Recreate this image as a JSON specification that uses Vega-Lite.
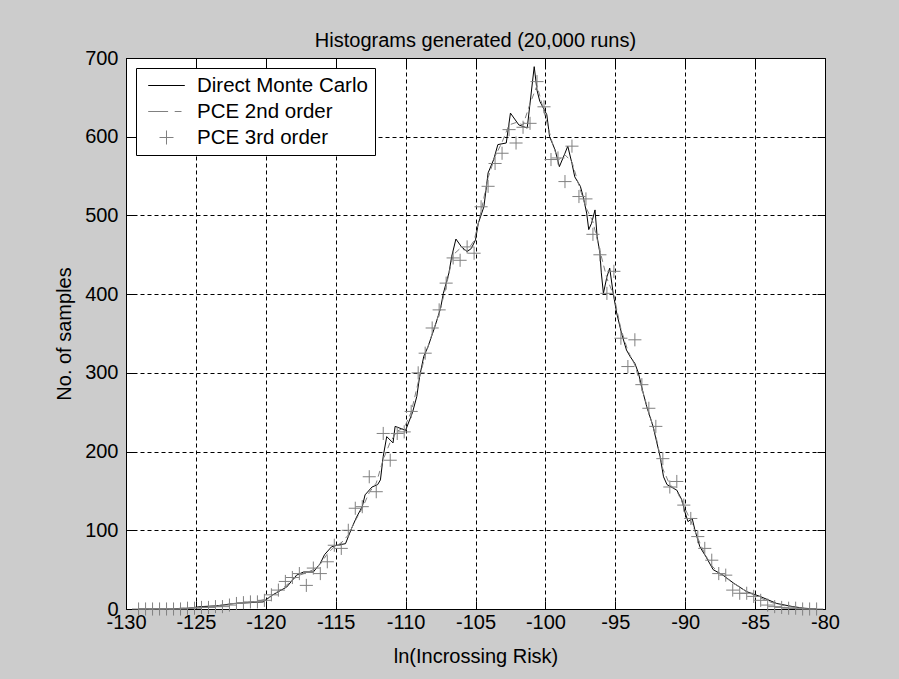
{
  "$schema": "https://vega.github.io/schema/vega-lite/v6.json",
  "width": 699,
  "height": 551,
  "autosize": {"type": "none"},
  "padding": {"left": 126, "top": 58, "right": 74, "bottom": 70},
  "background": "#cccccc",
  "title": {"text": "Histograms generated (20,000 runs)", "fontSize": 20, "fontWeight": "normal", "font": "Liberation Sans", "color": "black", "offset": -3},
  "config": {
    "view": {"fill": "white", "stroke": "black", "strokeWidth": 1},
    "font": "Liberation Sans",
    "axis": {
      "labelFont": "Liberation Sans", "titleFont": "Liberation Sans",
      "labelFontSize": 20, "titleFontSize": 20,
      "labelColor": "black", "titleColor": "black", "titleFontWeight": "normal",
      "tickColor": "black", "tickSize": -8, "tickWidth": 1, "domain": false,
      "gridColor": "black", "gridDash": [4, 3], "gridOpacity": 1, "gridWidth": 1,
      "labelFlush": false, "labelOverlap": false,
      "labelExpr": "datum.value < 0 ? '-' + abs(datum.value) : '' + datum.value"
    },
    "legend": {
      "orient": "top-left", "offset": 10, "fillColor": "white", "strokeColor": "black",
      "padding": 7, "labelFont": "Liberation Sans", "labelFontSize": 20.5, "labelColor": "black", "labelLimit": 400,
      "symbolSize": 400, "symbolStrokeWidth": 1, "rowPadding": 5, "symbolOffset": 13, "labelOffset": 20, "cornerRadius": 0
    }
  },
  "datasets": {
    "mc": [
      {"x": -129.1, "count": 0}, {"x": -127.0, "count": 0}, {"x": -125.5, "count": 1}, {"x": -124.7, "count": 3},
      {"x": -123.5, "count": 4}, {"x": -122.3, "count": 7}, {"x": -121.2, "count": 8}, {"x": -120.2, "count": 9},
      {"x": -119.5, "count": 18}, {"x": -118.5, "count": 28}, {"x": -117.8, "count": 43}, {"x": -117.3, "count": 47},
      {"x": -116.6, "count": 47}, {"x": -116.1, "count": 58}, {"x": -115.8, "count": 69}, {"x": -115.3, "count": 79},
      {"x": -114.9, "count": 81}, {"x": -114.3, "count": 83}, {"x": -113.85, "count": 103}, {"x": -113.5, "count": 117},
      {"x": -113.1, "count": 130}, {"x": -112.9, "count": 145}, {"x": -112.4, "count": 155}, {"x": -112.0, "count": 158},
      {"x": -111.8, "count": 164}, {"x": -111.6, "count": 194}, {"x": -111.35, "count": 219}, {"x": -110.9, "count": 211},
      {"x": -110.75, "count": 232}, {"x": -110.0, "count": 227}, {"x": -109.5, "count": 250}, {"x": -109.2, "count": 270},
      {"x": -109.0, "count": 295}, {"x": -108.7, "count": 321}, {"x": -108.4, "count": 333}, {"x": -107.9, "count": 359},
      {"x": -107.5, "count": 382}, {"x": -107.3, "count": 401}, {"x": -106.9, "count": 427}, {"x": -106.7, "count": 448},
      {"x": -106.4, "count": 470}, {"x": -106.0, "count": 460}, {"x": -105.6, "count": 454}, {"x": -105.3, "count": 458},
      {"x": -105.0, "count": 469}, {"x": -104.8, "count": 490}, {"x": -104.4, "count": 511}, {"x": -104.25, "count": 532},
      {"x": -104.1, "count": 554}, {"x": -103.7, "count": 571}, {"x": -103.4, "count": 590}, {"x": -102.8, "count": 592},
      {"x": -102.5, "count": 630}, {"x": -101.9, "count": 615}, {"x": -101.3, "count": 611}, {"x": -100.8, "count": 689},
      {"x": -100.6, "count": 659}, {"x": -100.4, "count": 645}, {"x": -99.9, "count": 628}, {"x": -99.7, "count": 600},
      {"x": -99.3, "count": 583}, {"x": -99.0, "count": 562}, {"x": -98.6, "count": 579}, {"x": -98.4, "count": 588},
      {"x": -98.1, "count": 566}, {"x": -97.9, "count": 549}, {"x": -97.5, "count": 537}, {"x": -97.3, "count": 524},
      {"x": -97.05, "count": 503}, {"x": -96.9, "count": 482}, {"x": -96.7, "count": 490}, {"x": -96.45, "count": 507},
      {"x": -96.3, "count": 473}, {"x": -96.1, "count": 452}, {"x": -96.0, "count": 427}, {"x": -95.85, "count": 401},
      {"x": -95.6, "count": 422}, {"x": -95.4, "count": 433}, {"x": -95.15, "count": 401}, {"x": -94.9, "count": 376},
      {"x": -94.55, "count": 350}, {"x": -94.2, "count": 329}, {"x": -93.95, "count": 321}, {"x": -93.6, "count": 312},
      {"x": -93.35, "count": 300}, {"x": -93.0, "count": 274}, {"x": -92.75, "count": 257}, {"x": -92.3, "count": 232},
      {"x": -91.8, "count": 194}, {"x": -91.55, "count": 168}, {"x": -91.3, "count": 158}, {"x": -90.6, "count": 151},
      {"x": -90.25, "count": 139}, {"x": -90.0, "count": 122}, {"x": -89.8, "count": 111}, {"x": -89.5, "count": 115},
      {"x": -89.3, "count": 100}, {"x": -88.95, "count": 79}, {"x": -88.5, "count": 66}, {"x": -88.0, "count": 50},
      {"x": -87.3, "count": 43}, {"x": -86.55, "count": 33}, {"x": -85.6, "count": 22}, {"x": -84.65, "count": 16},
      {"x": -83.45, "count": 7}, {"x": -82.3, "count": 3}, {"x": -81.5, "count": 1}, {"x": -80.6, "count": 0}
    ],
    "pce2": [
      {"x": -129.1, "count": 0}, {"x": -128.6, "count": 0}, {"x": -128.1, "count": 0}, {"x": -127.6, "count": 0},
      {"x": -127.1, "count": 0}, {"x": -126.6, "count": 0}, {"x": -126.1, "count": 1}, {"x": -125.6, "count": 1},
      {"x": -125.1, "count": 2}, {"x": -124.6, "count": 2}, {"x": -124.1, "count": 3}, {"x": -123.6, "count": 4},
      {"x": -123.1, "count": 5}, {"x": -122.6, "count": 6}, {"x": -122.1, "count": 7}, {"x": -121.6, "count": 8},
      {"x": -121.1, "count": 9}, {"x": -120.6, "count": 10}, {"x": -120.1, "count": 12}, {"x": -119.6, "count": 16},
      {"x": -119.1, "count": 23}, {"x": -118.6, "count": 29}, {"x": -118.1, "count": 37}, {"x": -117.6, "count": 43},
      {"x": -117.1, "count": 46}, {"x": -116.6, "count": 50}, {"x": -116.1, "count": 57}, {"x": -115.6, "count": 70},
      {"x": -115.1, "count": 79}, {"x": -114.6, "count": 84}, {"x": -114.1, "count": 94}, {"x": -113.6, "count": 112},
      {"x": -113.1, "count": 128}, {"x": -112.6, "count": 148}, {"x": -112.1, "count": 160}, {"x": -111.6, "count": 190},
      {"x": -111.1, "count": 212}, {"x": -110.6, "count": 226}, {"x": -110.1, "count": 230}, {"x": -109.6, "count": 250},
      {"x": -109.1, "count": 288}, {"x": -108.6, "count": 322}, {"x": -108.1, "count": 350}, {"x": -107.6, "count": 375},
      {"x": -107.1, "count": 410}, {"x": -106.6, "count": 450}, {"x": -106.1, "count": 458}, {"x": -105.6, "count": 455},
      {"x": -105.1, "count": 468}, {"x": -104.6, "count": 505}, {"x": -104.1, "count": 548}, {"x": -103.6, "count": 575},
      {"x": -103.1, "count": 593}, {"x": -102.6, "count": 615}, {"x": -102.1, "count": 618}, {"x": -101.6, "count": 615},
      {"x": -101.1, "count": 642}, {"x": -100.6, "count": 665}, {"x": -100.1, "count": 632}, {"x": -99.6, "count": 598},
      {"x": -99.1, "count": 570}, {"x": -98.6, "count": 577}, {"x": -98.1, "count": 568}, {"x": -97.6, "count": 538},
      {"x": -97.1, "count": 510}, {"x": -96.6, "count": 492}, {"x": -96.1, "count": 455}, {"x": -95.6, "count": 420},
      {"x": -95.1, "count": 398}, {"x": -94.6, "count": 356}, {"x": -94.1, "count": 328}, {"x": -93.6, "count": 310},
      {"x": -93.1, "count": 280}, {"x": -92.6, "count": 250}, {"x": -92.1, "count": 220}, {"x": -91.6, "count": 178},
      {"x": -91.1, "count": 158}, {"x": -90.6, "count": 150}, {"x": -90.1, "count": 131}, {"x": -89.6, "count": 112},
      {"x": -89.1, "count": 90}, {"x": -88.6, "count": 70}, {"x": -88.1, "count": 55}, {"x": -87.6, "count": 46},
      {"x": -87.1, "count": 40}, {"x": -86.6, "count": 33}, {"x": -86.1, "count": 28}, {"x": -85.6, "count": 22},
      {"x": -85.1, "count": 18}, {"x": -84.6, "count": 14}, {"x": -84.1, "count": 10}, {"x": -83.6, "count": 7},
      {"x": -83.1, "count": 5}, {"x": -82.6, "count": 3}, {"x": -82.1, "count": 2}, {"x": -81.6, "count": 1},
      {"x": -81.1, "count": 0}, {"x": -80.6, "count": 0}
    ],
    "pce3": [
      {"x": -129.1, "count": 0, "series": "PCE 3rd order"}, {"x": -128.6, "count": 0, "series": "PCE 3rd order"},
      {"x": -128.1, "count": 0, "series": "PCE 3rd order"}, {"x": -127.6, "count": 0, "series": "PCE 3rd order"},
      {"x": -127.1, "count": 0, "series": "PCE 3rd order"}, {"x": -126.6, "count": 0, "series": "PCE 3rd order"},
      {"x": -126.1, "count": 0, "series": "PCE 3rd order"}, {"x": -125.6, "count": 1, "series": "PCE 3rd order"},
      {"x": -125.1, "count": 1, "series": "PCE 3rd order"}, {"x": -124.6, "count": 2, "series": "PCE 3rd order"},
      {"x": -124.1, "count": 2, "series": "PCE 3rd order"}, {"x": -123.6, "count": 3, "series": "PCE 3rd order"},
      {"x": -123.1, "count": 3, "series": "PCE 3rd order"}, {"x": -122.6, "count": 5, "series": "PCE 3rd order"},
      {"x": -122.1, "count": 7, "series": "PCE 3rd order"}, {"x": -121.6, "count": 8, "series": "PCE 3rd order"},
      {"x": -121.1, "count": 9, "series": "PCE 3rd order"}, {"x": -120.6, "count": 9, "series": "PCE 3rd order"},
      {"x": -120.1, "count": 11, "series": "PCE 3rd order"}, {"x": -119.6, "count": 18, "series": "PCE 3rd order"},
      {"x": -119.1, "count": 24, "series": "PCE 3rd order"}, {"x": -118.6, "count": 35, "series": "PCE 3rd order"},
      {"x": -118.1, "count": 40, "series": "PCE 3rd order"}, {"x": -117.6, "count": 45, "series": "PCE 3rd order"},
      {"x": -117.1, "count": 30, "series": "PCE 3rd order"}, {"x": -116.6, "count": 52, "series": "PCE 3rd order"},
      {"x": -116.1, "count": 45, "series": "PCE 3rd order"}, {"x": -115.6, "count": 60, "series": "PCE 3rd order"},
      {"x": -115.1, "count": 81, "series": "PCE 3rd order"}, {"x": -114.6, "count": 77, "series": "PCE 3rd order"},
      {"x": -114.1, "count": 100, "series": "PCE 3rd order"}, {"x": -113.6, "count": 128, "series": "PCE 3rd order"},
      {"x": -113.1, "count": 130, "series": "PCE 3rd order"}, {"x": -112.6, "count": 168, "series": "PCE 3rd order"},
      {"x": -112.1, "count": 149, "series": "PCE 3rd order"}, {"x": -111.6, "count": 223, "series": "PCE 3rd order"},
      {"x": -111.1, "count": 189, "series": "PCE 3rd order"}, {"x": -110.6, "count": 223, "series": "PCE 3rd order"},
      {"x": -110.1, "count": 225, "series": "PCE 3rd order"}, {"x": -109.6, "count": 251, "series": "PCE 3rd order"},
      {"x": -109.1, "count": 300, "series": "PCE 3rd order"}, {"x": -108.6, "count": 325, "series": "PCE 3rd order"},
      {"x": -108.1, "count": 357, "series": "PCE 3rd order"}, {"x": -107.6, "count": 380, "series": "PCE 3rd order"},
      {"x": -107.1, "count": 414, "series": "PCE 3rd order"}, {"x": -106.6, "count": 446, "series": "PCE 3rd order"},
      {"x": -106.1, "count": 443, "series": "PCE 3rd order"}, {"x": -105.6, "count": 460, "series": "PCE 3rd order"},
      {"x": -105.1, "count": 452, "series": "PCE 3rd order"}, {"x": -104.6, "count": 511, "series": "PCE 3rd order"},
      {"x": -104.1, "count": 537, "series": "PCE 3rd order"}, {"x": -103.6, "count": 566, "series": "PCE 3rd order"},
      {"x": -103.1, "count": 579, "series": "PCE 3rd order"}, {"x": -102.6, "count": 609, "series": "PCE 3rd order"},
      {"x": -102.1, "count": 592, "series": "PCE 3rd order"}, {"x": -101.6, "count": 612, "series": "PCE 3rd order"},
      {"x": -101.1, "count": 617, "series": "PCE 3rd order"}, {"x": -100.6, "count": 670, "series": "PCE 3rd order"},
      {"x": -100.1, "count": 638, "series": "PCE 3rd order"}, {"x": -99.6, "count": 571, "series": "PCE 3rd order"},
      {"x": -99.1, "count": 573, "series": "PCE 3rd order"}, {"x": -98.6, "count": 543, "series": "PCE 3rd order"},
      {"x": -98.1, "count": 588, "series": "PCE 3rd order"}, {"x": -97.6, "count": 524, "series": "PCE 3rd order"},
      {"x": -97.1, "count": 521, "series": "PCE 3rd order"}, {"x": -96.6, "count": 476, "series": "PCE 3rd order"},
      {"x": -96.1, "count": 450, "series": "PCE 3rd order"}, {"x": -95.6, "count": 401, "series": "PCE 3rd order"},
      {"x": -95.1, "count": 429, "series": "PCE 3rd order"}, {"x": -94.6, "count": 344, "series": "PCE 3rd order"},
      {"x": -94.1, "count": 308, "series": "PCE 3rd order"}, {"x": -93.6, "count": 342, "series": "PCE 3rd order"},
      {"x": -93.1, "count": 285, "series": "PCE 3rd order"}, {"x": -92.6, "count": 255, "series": "PCE 3rd order"},
      {"x": -92.1, "count": 232, "series": "PCE 3rd order"}, {"x": -91.6, "count": 191, "series": "PCE 3rd order"},
      {"x": -91.1, "count": 155, "series": "PCE 3rd order"}, {"x": -90.6, "count": 162, "series": "PCE 3rd order"},
      {"x": -90.1, "count": 132, "series": "PCE 3rd order"}, {"x": -89.6, "count": 115, "series": "PCE 3rd order"},
      {"x": -89.1, "count": 92, "series": "PCE 3rd order"}, {"x": -88.6, "count": 77, "series": "PCE 3rd order"},
      {"x": -88.1, "count": 62, "series": "PCE 3rd order"}, {"x": -87.6, "count": 45, "series": "PCE 3rd order"},
      {"x": -87.1, "count": 43, "series": "PCE 3rd order"}, {"x": -86.6, "count": 24, "series": "PCE 3rd order"},
      {"x": -86.1, "count": 20, "series": "PCE 3rd order"}, {"x": -85.6, "count": 20, "series": "PCE 3rd order"},
      {"x": -85.1, "count": 16, "series": "PCE 3rd order"}, {"x": -84.6, "count": 11, "series": "PCE 3rd order"},
      {"x": -84.1, "count": 5, "series": "PCE 3rd order"}, {"x": -83.6, "count": 3, "series": "PCE 3rd order"},
      {"x": -83.1, "count": 2, "series": "PCE 3rd order"}, {"x": -82.6, "count": 1, "series": "PCE 3rd order"},
      {"x": -82.1, "count": 1, "series": "PCE 3rd order"}, {"x": -81.6, "count": 0, "series": "PCE 3rd order"},
      {"x": -81.1, "count": 0, "series": "PCE 3rd order"}, {"x": -80.6, "count": 0, "series": "PCE 3rd order"}
    ]
  },
  "layer": [
    {
      "data": {"name": "mc"},
      "mark": {"type": "line", "color": "black", "strokeWidth": 1},
      "encoding": {
        "x": {"field": "x", "type": "quantitative", "scale": {"domain": [-130, -80], "nice": false, "zero": false},
              "axis": {"orient": "bottom", "values": [-130, -125, -120, -115, -110, -105, -100, -95, -90, -85, -80],
                       "grid": true, "labelPadding": 11, "title": "ln(Incrossing Risk)", "titlePadding": 14}},
        "y": {"field": "count", "type": "quantitative", "scale": {"domain": [0, 700], "nice": false},
              "axis": {"orient": "left", "values": [0, 100, 200, 300, 400, 500, 600, 700],
                       "grid": true, "labelPadding": 16, "title": "No. of samples", "titlePadding": 10}}
      }
    },
    {
      "data": {"name": "pce2"},
      "mark": {"type": "line", "color": "#808080", "strokeWidth": 1, "strokeDash": [6, 4]},
      "encoding": {
        "x": {"field": "x", "type": "quantitative", "axis": null},
        "y": {"field": "count", "type": "quantitative", "axis": null}
      }
    },
    {
      "data": {"name": "pce3"},
      "mark": {"type": "point", "filled": false, "size": 350, "strokeWidth": 1, "opacity": 1},
      "encoding": {
        "x": {"field": "x", "type": "quantitative",
              "axis": {"orient": "top", "values": [-130, -125, -120, -115, -110, -105, -100, -95, -90, -85, -80],
                       "grid": false, "labels": false, "title": null}},
        "y": {"field": "count", "type": "quantitative",
              "axis": {"orient": "right", "values": [0, 100, 200, 300, 400, 500, 600, 700],
                       "grid": false, "labels": false, "title": null}},
        "color": {"field": "series", "type": "nominal",
                  "scale": {"domain": ["Direct Monte Carlo", "PCE 2nd order", "PCE 3rd order"], "range": ["black", "#808080", "#808080"]},
                  "legend": {"title": null}},
        "shape": {"field": "series", "type": "nominal",
                  "scale": {"domain": ["Direct Monte Carlo", "PCE 2nd order", "PCE 3rd order"],
                            "range": ["M-1.83,0L1.83,0", "M-1.83,0L0.16,0M0.82,0L1.5,0", "M-0.7,0L0.7,0M0,-0.7L0,0.7"]},
                  "legend": {"title": null}}
      }
    }
  ],
  "resolve": {"axis": {"x": "independent", "y": "independent"}}
}
